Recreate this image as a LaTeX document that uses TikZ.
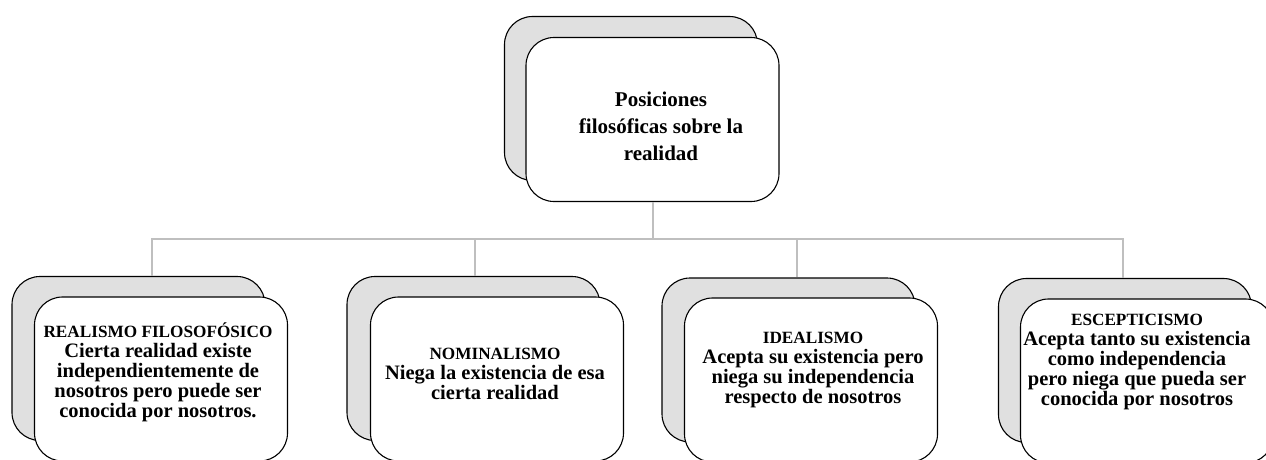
\documentclass[tikz,border=0pt]{standalone}
\usepackage{fontspec}
\setmainfont{Liberation Serif}
\usepackage{tikz}
\usetikzlibrary{positioning,calc}

\newcommand{\headline}[1]{{\fontsize{17.2}{20}\selectfont\bfseries #1}}

\begin{document}
\begin{tikzpicture}[
        x=1pt, y=-1pt,
        shadowbox/.style={rectangle, rounded corners=28pt, draw=black, line width=1.1pt, fill=gray!24, minimum width=253pt, minimum height=164pt, inner sep=0pt},
        frontbox/.style={shadowbox, fill=white},
        roottext/.style={align=center, font=\fontsize{21}{27}\selectfont\bfseries, inner sep=0pt},
        leaftext/.style={align=center, font=\fontsize{20.5}{20}\selectfont\bfseries, inner sep=0pt},
        link/.style={draw=gray!50, line width=2pt}
    ]

    \clip (0,0) rectangle (1266,459);

    % Root: Posiciones filosoficas
    \node[shadowbox] (b0) at (631,98.5) {};
    \node[frontbox] (f0) at (652.5,119.5) {};
    \node[roottext] (t0) at (661,126) {Posiciones\\filosóficas sobre la\\realidad};

    % Branch boxes
    \node[shadowbox] (b1) at (138.5,358.5) {};
    \node[frontbox] (f1) at (161,379) {};
    \node[shadowbox] (b2) at (473.5,358.5) {};
    \node[frontbox] (f2) at (497,379) {};
    \node[shadowbox] (b3) at (788.5,360) {};
    \node[frontbox] (f3) at (811,380) {};
    \node[shadowbox] (b4) at (1125,360.5) {};
    \node[frontbox] (f4) at (1147,381) {};

    % Branch texts
    \node[leaftext] (t1) at (158,372) {\headline{REALISMO FILOSOFÓSICO}\\Cierta realidad existe\\independientemente de\\nosotros pero puede ser\\conocida por nosotros.};
    \node[leaftext] (t2) at (495,374) {\headline{NOMINALISMO}\\Niega la existencia de esa\\cierta realidad};
    \node[leaftext] (t3) at (813,370) {\headline{IDEALISMO}\\Acepta su existencia pero\\niega su independencia\\respecto de nosotros};
    \node[leaftext] (t4) at (1137,362) {\headline{ESCEPTICISMO}\\Acepta tanto su existencia\\como independencia\\pero niega que pueda ser\\conocida por nosotros};

    % Connectors
    \coordinate (hub) at (652.5,238.5);
    \draw[link] (f0.south) -- (hub);
    \draw[link] (hub) -| ([xshift=13.5pt]b1.north);
    \draw[link] (hub) -| ([xshift=1.5pt]b2.north);
    \draw[link] (hub) -| ([xshift=8.5pt]b3.north);
    \draw[link] (hub) -| ([xshift=-2pt]b4.north);

\end{tikzpicture}
\end{document}
